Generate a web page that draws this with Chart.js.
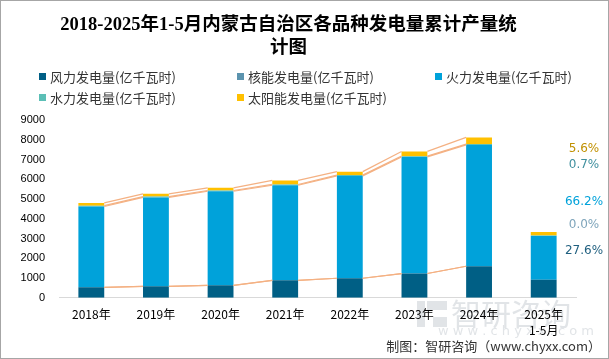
<!DOCTYPE html>
<html>
<head>
    <meta charset="utf-8">
    <title>内蒙古自治区各品种发电量</title>
    <script src="https://cdn.jsdelivr.net/npm/chart.js"></script>
    <style>
        html, body { margin: 0; padding: 0; background: #fff; }
        #wrap { position: relative; width: 607px; height: 357px; border: 1px solid #a6a6a6; }
        #wrap canvas { position: absolute; left: 0; top: 0; }
        .legend { position: absolute; font: 13px "Noto Sans CJK SC", sans-serif; color: #333; white-space: nowrap; }
        .legend i { display: inline-block; width: 7px; height: 7px; margin-right: 4px; vertical-align: 2px; }
    </style>
</head>
<body>
    <div id="wrap">
        <canvas id="chart" width="607" height="357"></canvas>
    </div>

    <script>
        const years = ['2018年', '2019年', '2020年', '2021年', '2022年', '2023年', '2024年', ['2025年', '1-5月']];

        // 亿千瓦时
        const wind    = [530, 580, 630, 885, 990, 1230, 1600, 920];
        const nuclear = [0, 0, 0, 0, 0, 0, 0, 0];
        const thermal = [4100, 4510, 4770, 4820, 5190, 5910, 6150, 2210];
        const hydro   = [40, 40, 40, 40, 40, 40, 40, 23];
        const solar   = [140, 140, 135, 205, 175, 240, 340, 186];

        const seriesNames = ['风力发电量(亿千瓦时)', '核能发电量(亿千瓦时)', '火力发电量(亿千瓦时)',
                             '水力发电量(亿千瓦时)', '太阳能发电量(亿千瓦时)'];
        const seriesColors = ['#005f85', '#5b93ae', '#00a2da', '#5bbfb6', '#ffc000'];
        const shareColors  = ['#1f5f7f', '#7fa5bb', '#00a2da', '#3f8f9e', '#c09000'];

        const yTicks = [0, 1000, 2000, 3000, 4000, 5000, 6000, 7000, 8000, 9000];

        // legend laid out in three columns like the original
        const wrap = document.getElementById('wrap');
        seriesNames.forEach((name, i) => {
            const d = document.createElement('div');
            d.className = 'legend';
            d.style.left = (38 + (i % 3) * 198) + 'px';
            d.style.top = (66 + Math.floor(i / 3) * 21) + 'px';
            d.innerHTML = '<i style="background:' + seriesColors[i] + '"></i>' + name;
            wrap.appendChild(d);
        });

        // connector lines between neighbouring bars (not to the 2025 bar)
        const seriesLines = {
            id: 'seriesLines',
            afterDatasetsDraw(chart) {
                const ctx = chart.ctx;
                ctx.save();
                ctx.strokeStyle = '#f4b183';
                ctx.lineWidth = 1.2;
                chart.data.datasets.forEach((ds, d) => {
                    const bars = chart.getDatasetMeta(d).data;
                    for (let i = 0; i < 6; i++) {
                        const a = bars[i], b = bars[i + 1];
                        ctx.beginPath();
                        ctx.moveTo(a.x + a.width / 2, a.y);
                        ctx.lineTo(b.x - b.width / 2, b.y);
                        ctx.stroke();
                    }
                });
                ctx.restore();
            }
        };

        // share of 2025 labels on the right, watermark and source note
        const extras = {
            id: 'extras',
            beforeDraw(chart) {
                const ctx = chart.ctx;
                ctx.save();
                ctx.fillStyle = 'rgba(200,205,212,0.55)';
                ctx.font = '30px "Noto Sans CJK SC"';
                ctx.textBaseline = 'middle';
                ctx.fillText('智研咨询', 450, 313);
                ctx.fillRect(416, 300, 8, 26);
                ctx.fillRect(426, 300, 20, 9);
                ctx.fillRect(432, 316, 14, 10);
                ctx.font = '13px "DejaVu Sans"';
                ctx.fillText('w w w . c h y x x . c o m', 437, 331);
                ctx.restore();
            },
            afterDraw(chart) {
                const ctx = chart.ctx;
                const last = years.length - 1;
                const vals = [wind[last], nuclear[last], thermal[last], hydro[last], solar[last]];
                const total = vals.reduce((s, v) => s + v, 0);
                const top = chart.chartArea.top;
                const yOff = [131, 105, 82, 45, 29];
                ctx.save();
                ctx.font = '12px "DejaVu Sans"';
                ctx.textAlign = 'center';
                ctx.textBaseline = 'middle';
                vals.forEach((v, i) => {
                    ctx.fillStyle = shareColors[i];
                    ctx.fillText((v / total * 100).toFixed(1) + '%', 583, top + yOff[i]);
                });
                ctx.fillStyle = '#333';
                ctx.font = '13px "Noto Sans CJK SC"';
                ctx.textAlign = 'right';
                ctx.fillText('制图：智研咨询（www.chyxx.com）', 600, 345);
                ctx.restore();
            }
        };

        const values = [wind, nuclear, thermal, hydro, solar];
        new Chart(document.getElementById('chart'), {
            type: 'bar',
            data: {
                labels: years,
                datasets: values.map((v, i) => ({
                    label: seriesNames[i],
                    data: v,
                    backgroundColor: seriesColors[i],
                    barPercentage: 0.4,
                    categoryPercentage: 1
                }))
            },
            options: {
                responsive: false,
                animation: false,
                layout: { padding: { left: 0, right: 32, top: 8, bottom: 11 } },
                plugins: {
                    legend: { display: false },
                    tooltip: { enabled: false },
                    title: {
                        display: true,
                        text: ['2018-2025年1-5月内蒙古自治区各品种发电量累计产量统', '计图'],
                        color: '#000',
                        font: { family: '"Liberation Serif", "Noto Sans CJK SC"', size: 18.5, weight: 'bold', lineHeight: 1.25 },
                        padding: { top: 5, bottom: 60 }
                    }
                },
                scales: {
                    x: {
                        stacked: true,
                        grid: { display: false, drawTicks: false },
                        border: { color: '#d9d9d9' },
                        ticks: { color: '#000', font: { family: '"Noto Sans CJK SC"', size: 12, lineHeight: 1.3 }, padding: 9, maxRotation: 0 }
                    },
                    y: {
                        stacked: true,
                        min: 0,
                        max: 9000,
                        afterBuildTicks: s => { s.ticks = yTicks.map(v => ({ value: v })); },
                        afterFit: s => { s.width = 58; },
                        grid: { display: false, drawTicks: false },
                        border: { display: false },
                        ticks: {
                            color: '#000',
                            font: { family: '"Liberation Sans"', size: 11 },
                            padding: 14,
                            callback: v => String(v)
                        }
                    }
                }
            },
            plugins: [seriesLines, extras]
        });
    </script>
</body>
</html>
